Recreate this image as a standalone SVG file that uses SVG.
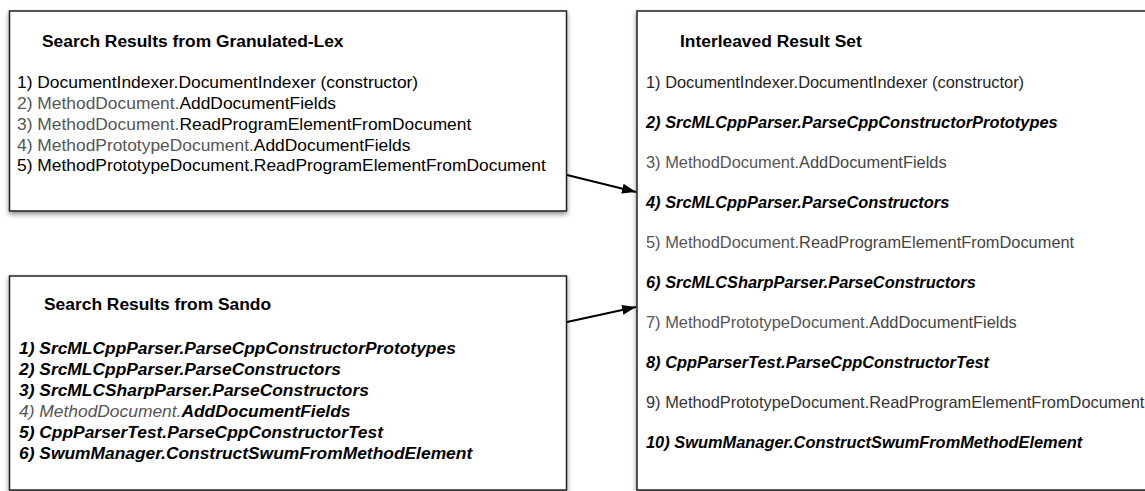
<svg xmlns="http://www.w3.org/2000/svg" width="1145" height="491" viewBox="0 0 1145 491">
<style>
text{font-family:"Liberation Sans",Arial,Helvetica,sans-serif;fill:#000}
.box{fill:#fff;stroke:#222;stroke-width:1.5}
.title{font-weight:bold;font-size:17.4px}
.l{font-size:17.4px}
.r{font-size:16.4px}
.bi{font-weight:bold;font-style:italic}
.g{fill:#555}
.gr{fill:#444}
.conn{stroke:#000;stroke-width:2;fill:none}
</style>
<defs>
<filter id="sh" x="-5%" y="-5%" width="110%" height="115%">
<feDropShadow dx="0" dy="2.5" stdDeviation="2.5" flood-color="#000" flood-opacity="0.45"/>
</filter>
<marker id="ah" markerWidth="14" markerHeight="10" refX="14" refY="5" orient="auto" markerUnits="userSpaceOnUse">
<path d="M0,0 L14,5 L0,10 Z" fill="#000"/>
</marker>
</defs>
<g id="granulated-lex">
<rect class="box" x="9.5" y="11" width="557" height="200" filter="url(#sh)"/>
<text class="title" x="42" y="47">Search Results from Granulated-Lex</text>
<text class="l" x="17" y="88">1) DocumentIndexer.DocumentIndexer (constructor)</text>
<text class="l" x="17" y="109"><tspan class="g">2) MethodDocument.</tspan>AddDocumentFields</text>
<text class="l" x="17" y="130"><tspan class="g">3) MethodDocument.</tspan>ReadProgramElementFromDocument</text>
<text class="l" x="17" y="150.5"><tspan class="g">4) MethodPrototypeDocument.</tspan>AddDocumentFields</text>
<text class="l" x="17" y="171">5) MethodPrototypeDocument.ReadProgramElementFromDocument</text>
</g>
<g id="sando">
<rect class="box" x="9.5" y="276" width="557" height="214" filter="url(#sh)"/>
<text class="title" x="44" y="310">Search Results from Sando</text>
<text class="l bi" x="19" y="354">1) SrcMLCppParser.ParseCppConstructorPrototypes</text>
<text class="l bi" x="19" y="375">2) SrcMLCppParser.ParseConstructors</text>
<text class="l bi" x="19" y="396">3) SrcMLCSharpParser.ParseConstructors</text>
<text class="l bi" x="19" y="417"><tspan class="g" font-weight="normal">4) MethodDocument.</tspan>AddDocumentFields</text>
<text class="l bi" x="19" y="438">5) CppParserTest.ParseCppConstructorTest</text>
<text class="l bi" x="19" y="459">6) SwumManager.ConstructSwumFromMethodElement</text>
</g>
<g id="interleaved">
<rect class="box" x="637" y="11" width="520" height="479" filter="url(#sh)"/>
<text class="title" x="680" y="47">Interleaved Result Set</text>
<text class="r" x="646" y="88" style="fill:#222">1) DocumentIndexer.DocumentIndexer (constructor)</text>
<text class="r bi" x="646" y="128">2) SrcMLCppParser.ParseCppConstructorPrototypes</text>
<text class="r gr" x="646" y="168"><tspan class="g">3) MethodDocument.</tspan>AddDocumentFields</text>
<text class="r bi" x="646" y="208">4) SrcMLCppParser.ParseConstructors</text>
<text class="r gr" x="646" y="248"><tspan class="g">5) MethodDocument.</tspan>ReadProgramElementFromDocument</text>
<text class="r bi" x="646" y="288">6) SrcMLCSharpParser.ParseConstructors</text>
<text class="r gr" x="646" y="328"><tspan class="g">7) MethodPrototypeDocument.</tspan>AddDocumentFields</text>
<text class="r bi" x="646" y="368">8) CppParserTest.ParseCppConstructorTest</text>
<text class="r" x="646" y="408" style="fill:#333">9) MethodPrototypeDocument.ReadProgramElementFromDocument</text>
<text class="r bi" x="646" y="448">10) SwumManager.ConstructSwumFromMethodElement</text>
</g>
<g id="connectors">
<line class="conn" x1="567" y1="175" x2="636" y2="192" marker-end="url(#ah)"/>
<line class="conn" x1="567" y1="322" x2="636" y2="307" marker-end="url(#ah)"/>
</g>
</svg>
